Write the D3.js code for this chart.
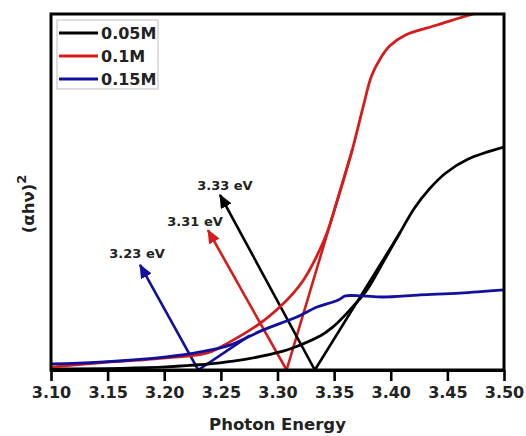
<!DOCTYPE html>
<html><head><meta charset="utf-8">
<script src="https://cdn.jsdelivr.net/npm/d3@7"></script>
<style>
html,body{margin:0;padding:0;background:#fff;}
svg{display:block;font-family:"DejaVu Sans",sans-serif;font-weight:bold;}
</style></head>
<body>
<svg id="chart" width="526" height="436"></svg>
<script>
// ---- data ----
const xTicks = [3.10,3.15,3.20,3.25,3.30,3.35,3.40,3.45,3.50];
const seriesNames = ["0.05M","0.1M","0.15M"];
const seriesColors = ["#000000","#d41c1c","#10109c"];

const blackE = [3.10,3.202,3.261,3.305,3.32,3.338,3.349,3.364,3.379,3.393,3.408,3.421,3.434,3.448,3.468,3.50];
const blackV = [0.3,0.9,2.5,5.3,7.0,9.6,12.1,16.9,22.5,30.1,38.5,45.5,50.8,55.2,59.2,62.6];

const redE = [3.10,3.143,3.202,3.238,3.258,3.285,3.302,3.314,3.323,3.332,3.343,3.353,3.366,3.376,3.383,3.391,3.399,3.413,3.441,3.473,3.50];
const redV = [0.8,2.0,3.4,4.8,7.9,13.2,17.7,21.6,25.3,30.3,37.9,47.8,61.8,74.4,82.6,87.6,91.0,94.1,96.9,100,101.7];

const blueE = [3.10,3.143,3.202,3.232,3.258,3.287,3.317,3.335,3.349,3.355,3.36,3.375,3.393,3.426,3.461,3.50];
const blueV = [1.7,2.2,3.7,5.1,7.0,11.2,14.9,17.7,19.1,19.9,20.8,20.8,20.5,21.1,21.6,22.5];

// tangent lines [E0,V0,E1,V1]
const tangentBlack = [3.333,0,3.408,38.5];
const tangentRed   = [3.308,0,3.366,61.8];
const tangentBlue  = [3.230,0,3.275,9.6];

// arrows: start(E,V) -> tip(E,V), label and label position
const arrowLabels = ["3.33 eV","3.31 eV","3.23 eV"];
const arrowStart  = [[3.333,0],[3.308,0],[3.230,0]];
const arrowTip    = [[3.2492,49.2],[3.2386,39.3],[3.1786,29.5]];
const labelPos    = [[3.2536,51.8],[3.2272,41.6],[3.176,32.6]];

// ---- layout ----
const svg = d3.select("#chart");
const L = 51, R = 504, T = 14, B = 370;
const x = d3.scaleLinear().domain([3.10,3.50]).range([L,R]);
const y = d3.scaleLinear().domain([0,100]).range([B,T]);

svg.append("defs").append("clipPath").attr("id","clip")
  .append("rect").attr("x",L).attr("y",T).attr("width",R-L).attr("height",B-T);

const defs = svg.select("defs");
seriesColors.forEach((c,i)=>{
  defs.append("marker").attr("id","ah"+i)
    .attr("viewBox","0 0 14 12").attr("refX",13).attr("refY",6)
    .attr("markerWidth",14).attr("markerHeight",12)
    .attr("markerUnits","userSpaceOnUse").attr("orient","auto")
    .append("path").attr("d","M0,0 L14,6 L0,12 Z").attr("fill",c);
});

const line = d3.line().x(d=>x(d[0])).y(d=>y(d[1])).curve(d3.curveCatmullRom.alpha(0.5));
const series = [
  d3.zip(blackE,blackV),
  d3.zip(redE,redV),
  d3.zip(blueE,blueV)
];
const tangents = [tangentBlack,tangentRed,tangentBlue];

const g = svg.append("g").attr("clip-path","url(#clip)");
tangents.forEach((t,i)=>{
  g.append("line").attr("x1",x(t[0])).attr("y1",y(t[1])).attr("x2",x(t[2])).attr("y2",y(t[3]))
    .attr("stroke",seriesColors[i]).attr("stroke-width",2.6).attr("stroke-linecap","round");
});
arrowStart.forEach((s,i)=>{
  g.append("line").attr("x1",x(s[0])).attr("y1",y(s[1]))
    .attr("x2",x(arrowTip[i][0])).attr("y2",y(arrowTip[i][1]))
    .attr("stroke",seriesColors[i]).attr("stroke-width",2.6)
    .attr("marker-end","url(#ah"+i+")");
});
series.forEach((s,i)=>{
  g.append("path").attr("d",line(s)).attr("fill","none")
    .attr("stroke",seriesColors[i]).attr("stroke-width",2.8).attr("stroke-linejoin","round");
});

arrowLabels.forEach((t,i)=>{
  svg.append("text").attr("x",x(labelPos[i][0])).attr("y",y(labelPos[i][1]))
    .attr("text-anchor","middle").attr("dominant-baseline","central")
    .attr("font-size",13).attr("fill","#222").text(t);
});

svg.append("rect").attr("x",L).attr("y",T).attr("width",R-L).attr("height",B-T)
  .attr("fill","none").attr("stroke","#000").attr("stroke-width",3);

const ax = svg.append("g").attr("transform",`translate(0,${B})`)
  .call(d3.axisBottom(x).tickValues(xTicks).tickFormat(d3.format(".2f")).tickSize(11).tickSizeOuter(0));
ax.select(".domain").attr("stroke-width",3);
ax.selectAll(".tick line").attr("stroke-width",2.6);
ax.selectAll(".tick text").attr("font-size",16).attr("font-family","DejaVu Sans").attr("font-weight","bold")
  .attr("fill","#222").attr("y",17).attr("dy","0.71em");

svg.append("text").attr("x",(L+R)/2).attr("y",430).attr("text-anchor","middle")
  .attr("font-size",16.5).attr("fill","#222").text("Photon Energy");

const yl = svg.append("text").attr("transform",`translate(34,${(T+B)/2+12}) rotate(-90)`)
  .attr("text-anchor","middle").attr("font-size",16.5).attr("fill","#222");
yl.append("tspan").text("(αhν)");
yl.append("tspan").attr("dy",-8).attr("font-size",13).text("2");

const lg = svg.append("g");
lg.append("rect").attr("x",57).attr("y",20).attr("width",101).attr("height",69)
  .attr("fill","#fff").attr("stroke","#c8c8c8").attr("stroke-width",1.2);
seriesNames.forEach((n,i)=>{
  const yy = 33 + i*23;
  lg.append("line").attr("x1",59).attr("x2",98).attr("y1",yy).attr("y2",yy)
    .attr("stroke",seriesColors[i]).attr("stroke-width",3);
  lg.append("text").attr("x",101).attr("y",yy).attr("dominant-baseline","central")
    .attr("font-size",16).attr("fill","#222").text(n);
});
</script>
</body></html>
